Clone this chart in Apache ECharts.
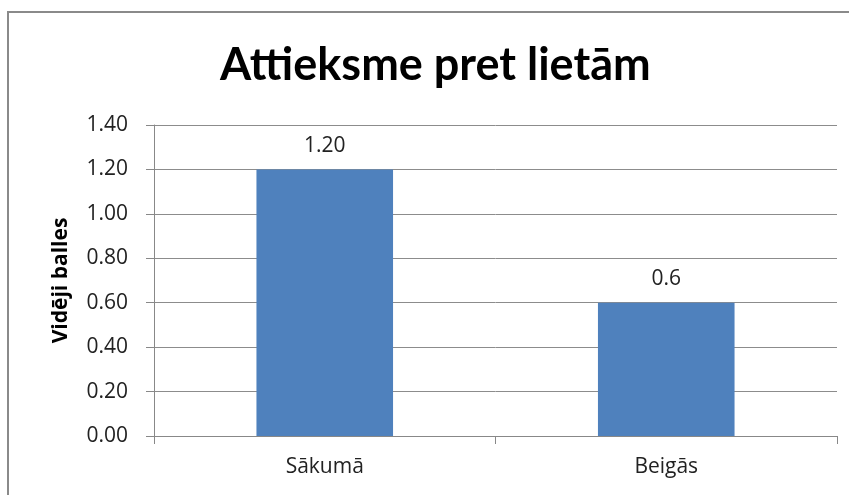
<!DOCTYPE html>
<html>
<head>
<meta charset="utf-8">
<script src="https://cdn.jsdelivr.net/npm/echarts@6/dist/echarts.min.js"></script>
<style>
  html, body { margin: 0; padding: 0; background: #fff; }
  #main { width: 849px; height: 495px; }
</style>
</head>
<body>
<div id="main"></div>
<script>
// --- dati ---
var categories = ['Sākumā', 'Beigās'];
var values = [1.20, 0.6];
var valueLabels = ['1.20', '0.6'];
var yTicks = [0, 0.2, 0.4, 0.6, 0.8, 1.0, 1.2, 1.4];

var myChart = echarts.init(document.getElementById('main'));
myChart.setOption({
	animation: false,
	title: {
		text: 'Attieksme pret lietām',
		left: 215,
		top: 38,
		textStyle: {
			fontFamily: 'Lato',
			fontSize: 45,
			fontWeight: 'bold',
			color: '#000'
		}
	},
	graphic: [
		{
			type: 'rect',
			shape: { x: 8, y: 12, width: 900, height: 600 },
			style: { fill: 'none', stroke: '#8a8a8a', lineWidth: 2 },
			silent: true
		}
	],
	grid: {
		left: 154,
		top: 125,
		right: 12,
		bottom: 59
	},
	xAxis: {
		type: 'category',
		data: categories,
		axisTick: { show: true, length: 8, alignWithLabel: false, lineStyle: { color: '#888' } },
		axisLine: { lineStyle: { color: '#888', width: 1 } },
		axisLabel: {
			margin: 21,
			fontFamily: 'Open Sans',
			fontSize: 21,
			color: '#222'
		}
	},
	yAxis: {
		type: 'value',
		min: yTicks[0],
		max: yTicks[yTicks.length - 1],
		interval: 0.2,
		name: 'Vidēji balles',
		nameLocation: 'middle',
		nameGap: 82,
		nameRotate: 90,
		nameTextStyle: {
			fontFamily: 'Open Sans',
			fontSize: 21,
			fontWeight: 'bold',
			color: '#000'
		},
		axisLine: { show: true, lineStyle: { color: '#888', width: 1 } },
		axisTick: { show: true, length: 8, lineStyle: { color: '#888' } },
		axisLabel: {
			margin: 26,
			fontFamily: 'Open Sans',
			fontSize: 21,
			color: '#222',
			formatter: function (v) { return v.toFixed(2); }
		},
		splitLine: { lineStyle: { color: '#8c8c8c', width: 1 } }
	},
	series: [
		{
			type: 'bar',
			data: values,
			barWidth: '40%',
			itemStyle: { color: '#4F81BD' },
			label: {
				show: true,
				position: 'top',
				distance: 13,
				fontFamily: 'Open Sans',
				fontSize: 21,
				color: '#222',
				formatter: function (p) { return valueLabels[p.dataIndex]; }
			}
		}
	]
});
</script>
</body>
</html>
